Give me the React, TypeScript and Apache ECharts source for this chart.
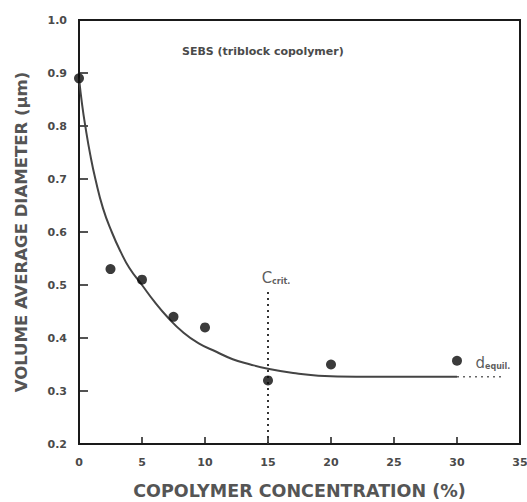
import React, { useEffect, useRef } from "react";
import * as echarts from "echarts";

const measuredX = [0, 2.5, 5, 7.5, 10, 15, 20, 30];
const measuredY = [0.89, 0.53, 0.51, 0.44, 0.42, 0.32, 0.35, 0.357];

const fitX = [0, 0.25, 0.5, 0.9, 1.3, 1.9, 2.6, 3.3, 4, 5, 6, 7, 8.3, 9.5, 10.9, 12.2, 13.6, 15, 17, 19, 22, 25, 30];
const fitY = [0.89, 0.84, 0.8, 0.745, 0.7, 0.645, 0.6, 0.563, 0.532, 0.5, 0.468, 0.44, 0.41, 0.39, 0.374, 0.36, 0.35, 0.342, 0.334, 0.329, 0.327, 0.327, 0.327];

const equilX = [30, 33.8];
const equilY = [0.327, 0.327];

const critX = [15, 15];
const critY = [0.2, 0.49];

const xTicks = { min: 0, max: 35, interval: 5 };
const yTicks = { min: 0.2, max: 1.0, interval: 0.1 };

const FONT = "DejaVu Sans";
const TXT = "#333333";
const GRAY = "#4a4a4a";

export default function App() {
  const ref = useRef<HTMLDivElement>(null);
  useEffect(() => {
    if (!ref.current) return;
    const chart = echarts.init(ref.current, null, { renderer: "svg" });
    chart.setOption({
      animation: false,
      backgroundColor: "#ffffff",
      textStyle: { fontFamily: FONT },
      title: {
        text: "SEBS (triblock copolymer)",
        left: 177,
        top: 41,
        textStyle: { fontFamily: FONT, fontSize: 11, fontWeight: "bold", color: GRAY },
      },
      grid: {
        left: 79,
        right: 7,
        top: 20,
        bottom: 58,
        containLabel: false,
        outerBoundsMode: "none",
        show: true,
        borderColor: "#1a1a1a",
        borderWidth: 2,
        backgroundColor: "transparent",
      },
      xAxis: {
        type: "value",
        ...xTicks,
        name: "COPOLYMER CONCENTRATION (%)",
        nameLocation: "middle",
        nameGap: 38,
        nameTextStyle: { fontFamily: FONT, fontSize: 17.5, lineHeight: 18, fontWeight: "bold", color: "#555555" },
        axisLine: { show: true, lineStyle: { color: "#1a1a1a", width: 2 } },
        axisTick: { show: true, inside: true, length: 7, lineStyle: { color: "#1a1a1a", width: 1.5 } },
        axisLabel: { fontFamily: FONT, fontSize: 11, fontWeight: "bold", color: GRAY, margin: 13 },
        splitLine: { show: false },
      },
      yAxis: {
        type: "value",
        ...yTicks,
        name: "VOLUME AVERAGE DIAMETER (µm)",
        nameLocation: "middle",
        nameGap: 49,
        nameRotate: 90,
        nameTextStyle: { fontFamily: FONT, fontSize: 16.5, fontWeight: "bold", color: "#555555" },
        axisLine: { show: true, lineStyle: { color: "#1a1a1a", width: 2 } },
        axisTick: { show: true, inside: true, length: 9, lineStyle: { color: "#1a1a1a", width: 1.5 } },
        axisLabel: {
          fontFamily: FONT,
          fontSize: 11,
          fontWeight: "bold",
          color: GRAY,
          margin: 12,
          formatter: (v: number) => v.toFixed(1),
        },
        splitLine: { show: false },
      },
      series: [
        {
          type: "line",
          data: fitX.map((x, i) => [x, fitY[i]]),
          smooth: 0.5,
          showSymbol: false,
          symbol: "none",
          lineStyle: { color: "#444444", width: 2 },
          z: 3,
        },
        {
          type: "line",
          data: equilX.map((x, i) => [x, equilY[i]]),
          showSymbol: false,
          symbol: "none",
          lineStyle: { color: "#666666", width: 1.5, type: [2, 4] },
          z: 3,
        },
        {
          type: "line",
          data: critX.map((x, i) => [x, critY[i]]),
          showSymbol: false,
          symbol: "none",
          lineStyle: { color: "#333333", width: 2, type: [2, 4] },
          z: 3,
        },
        {
          type: "scatter",
          data: measuredX.map((x, i) => [x, measuredY[i]]),
          symbol: "circle",
          symbolSize: 10,
          itemStyle: { color: "#0a0a0a" },
          z: 5,
        },
        {
          type: "scatter",
          silent: true,
          symbolSize: 0,
          data: [
            { value: [critX[1], critY[1]], label: { formatter: "{b|C}{s|crit.}", position: "top", distance: 5, offset: [8, 0] } },
            {
              value: [(equilX[0] + equilX[1]) / 2, equilY[0]],
              label: { formatter: "{b|d}{s|equil.}", position: "top", distance: 6, offset: [12, 0] },
            },
          ],
          label: {
            show: true,
            color: TXT,
            rich: {
              b: { fontFamily: FONT, fontSize: 15, color: TXT, verticalAlign: "bottom" },
              s: { fontFamily: FONT, fontSize: 8, fontWeight: "bold", color: TXT, padding: [9, 0, 0, 0] },
            },
          },
          z: 6,
        },
      ],
    });
    return () => chart.dispose();
  }, []);
  return <div ref={ref} style={{ width: 527, height: 502, position: "absolute", left: 0, top: 0 }} />;
}
